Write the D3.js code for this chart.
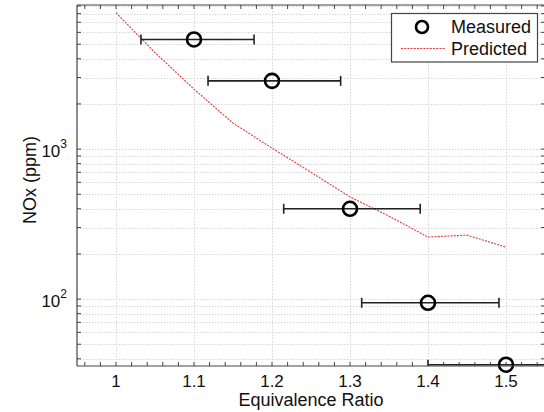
<!DOCTYPE html>
<html>
<head>
<meta charset="utf-8">
<script src="https://cdn.jsdelivr.net/npm/d3@7"></script>
<style>
  html, body { margin: 0; padding: 0; background: #fff; }
  svg { display: block; font-family: "Liberation Sans", Arial, sans-serif; }
</style>
</head>
<body>
<svg id="chart" width="544" height="412"></svg>
<script>
// ---- Data ----
const measuredPhi = [1.1, 1.2, 1.3, 1.4, 1.5];
const measuredNOx = [5380, 2850, 400, 94.5, 36.5];
const measuredPhiLow = [1.032, 1.118, 1.215, 1.315, 1.400];
const measuredPhiHigh = [1.177, 1.288, 1.390, 1.491, 1.620];

const predictedPhi = [1.0, 1.05, 1.1, 1.15, 1.2, 1.25, 1.3, 1.35, 1.4, 1.45, 1.5];
const predictedNOx = [8100, 4400, 2510, 1490, 1015, 700, 480, 357, 259, 267, 222];

const xTickValues = [1, 1.1, 1.2, 1.3, 1.4, 1.5];
const xTickLabels = ["1", "1.1", "1.2", "1.3", "1.4", "1.5"];
const yTickValues = [100, 1000];
const yTickExponents = ["2", "3"];
const legendLabels = ["Measured", "Predicted"];
const xTitle = "Equivalence Ratio";
const yTitle = "NOx (ppm)";

// ---- Layout ----
const svg = d3.select("#chart");
const pL = 77, pR = 545, pT = 5, pB = 366;
const x = d3.scaleLinear().domain([0.95, 1.55]).range([pL, pR]);
const y = d3.scaleLog().domain([35.8, 9130]).range([pB, pT]);

const axisColor = "#444";
const gridColor = "#d6d6d6";

// grid
const yMinor = [];
for (let d = 10; d <= 1000; d *= 10) for (let k = 1; k <= 9; k++) {
  const v = d * k; if (v >= 35.8 && v <= 9130) yMinor.push(v);
}
const xMinor = d3.range(0, 31).map(i => +(0.96 + i * 0.02).toFixed(2)).filter(v => v < 1.55);

const grid = svg.append("g");
grid.selectAll(".hg").data(yMinor).join("line")
  .attr("x1", pL).attr("x2", pR)
  .attr("y1", d => Math.round(y(d)) + 0.5).attr("y2", d => Math.round(y(d)) + 0.5)
  .attr("stroke", gridColor).attr("stroke-width", 1).attr("stroke-dasharray", "1.5,1.5");
grid.selectAll(".vg").data(xTickValues).join("line")
  .attr("y1", pT).attr("y2", pB)
  .attr("x1", d => Math.round(x(d)) + 0.5).attr("x2", d => Math.round(x(d)) + 0.5)
  .attr("stroke", gridColor).attr("stroke-width", 1).attr("stroke-dasharray", "1.5,1.5");

// clip
svg.append("clipPath").attr("id", "clip").append("rect")
  .attr("x", pL).attr("y", pT).attr("width", pR - pL).attr("height", pB - pT);

const plot = svg.append("g").attr("clip-path", "url(#clip)");

// predicted line
const line = d3.line().x(d => x(d[0])).y(d => y(d[1]));
plot.append("path")
  .datum(predictedPhi.map((p, i) => [p, predictedNOx[i]]))
  .attr("d", line)
  .attr("fill", "none").attr("stroke", "#e0393b").attr("stroke-width", 1.1)
  .attr("stroke-dasharray", "2,1.2");

// error bars
const meas = measuredPhi.map((p, i) => ({ p, v: measuredNOx[i], lo: measuredPhiLow[i], hi: measuredPhiHigh[i] }));
const eb = plot.append("g").attr("stroke", "#222").attr("stroke-width", 1.6);
eb.selectAll(".bar").data(meas).join("line")
  .attr("x1", d => x(d.lo)).attr("x2", d => x(d.hi))
  .attr("y1", d => y(d.v)).attr("y2", d => y(d.v));
eb.selectAll(".capl").data(meas).join("line")
  .attr("x1", d => x(d.lo)).attr("x2", d => x(d.lo))
  .attr("y1", d => y(d.v) - 5).attr("y2", d => y(d.v) + 5);
eb.selectAll(".caph").data(meas).join("line")
  .attr("x1", d => x(d.hi)).attr("x2", d => x(d.hi))
  .attr("y1", d => y(d.v) - 5).attr("y2", d => y(d.v) + 5);

// markers
svg.append("g").selectAll("circle").data(meas).join("circle")
  .attr("cx", d => x(d.p)).attr("cy", d => y(d.v)).attr("r", 7)
  .attr("fill", "none").attr("stroke", "#000").attr("stroke-width", 2.6);

// axes frame
const ax = svg.append("g").attr("stroke", axisColor).attr("stroke-width", 1.2);
ax.append("line").attr("x1", pL).attr("x2", pL).attr("y1", pT).attr("y2", pB);
ax.append("line").attr("x1", pL).attr("x2", pR).attr("y1", pB).attr("y2", pB);
ax.append("line").attr("x1", pL).attr("x2", pR).attr("y1", pT).attr("y2", pT);
ax.append("line").attr("x1", pR).attr("x2", pR).attr("y1", pT).attr("y2", pB);

// x ticks (bottom & top)
const xt = svg.append("g").attr("stroke", axisColor).attr("stroke-width", 1);
xt.selectAll(".xb").data(xMinor).join("line")
  .attr("x1", d => x(d)).attr("x2", d => x(d))
  .attr("y1", pB).attr("y2", pB - 4);
xt.selectAll(".xtp").data(xMinor).join("line")
  .attr("x1", d => x(d)).attr("x2", d => x(d))
  .attr("y1", pT).attr("y2", pT + 4);
// y ticks (left & right)
xt.selectAll(".yl").data(yMinor).join("line")
  .attr("x1", pL).attr("x2", pL + 4)
  .attr("y1", d => y(d)).attr("y2", d => y(d));
xt.selectAll(".yr").data(yMinor).join("line")
  .attr("x1", pR).attr("x2", pR - 4)
  .attr("y1", d => y(d)).attr("y2", d => y(d));

// x tick labels
svg.append("g").selectAll("text").data(xTickValues).join("text")
  .attr("x", d => x(d)).attr("y", 387)
  .attr("text-anchor", "middle").attr("font-size", 17).attr("fill", "#111")
  .text((d, i) => xTickLabels[i]);

// y tick labels
const yl = svg.append("g").selectAll("text").data(yTickValues).join("text")
  .attr("x", 67).attr("y", d => y(d) + 8)
  .attr("text-anchor", "end").attr("font-size", 17).attr("fill", "#111");
yl.append("tspan").text("10");
yl.append("tspan").attr("dy", -9).attr("font-size", 12).text((d, i) => yTickExponents[i]);

// axis titles
svg.append("text").attr("x", 311).attr("y", 406)
  .attr("text-anchor", "middle").attr("font-size", 18).attr("fill", "#111").text(xTitle);
svg.append("text").attr("transform", "translate(36,180) rotate(-90)")
  .attr("text-anchor", "middle").attr("font-size", 18).attr("fill", "#111").text(yTitle);

// legend
const lg = svg.append("g");
lg.append("rect").attr("x", 391.5).attr("y", 13.5).attr("width", 146).attr("height", 48.5)
  .attr("fill", "#fff").attr("stroke", "#444").attr("stroke-width", 1.2);
lg.append("circle").attr("cx", 422).attr("cy", 27).attr("r", 6)
  .attr("fill", "none").attr("stroke", "#000").attr("stroke-width", 2.6);
lg.append("line").attr("x1", 401).attr("x2", 446).attr("y1", 48.5).attr("y2", 48.5)
  .attr("stroke", "#e0393b").attr("stroke-width", 1.1).attr("stroke-dasharray", "2,1.2");
lg.append("text").attr("x", 451).attr("y", 33).attr("font-size", 18).attr("fill", "#111").text(legendLabels[0]);
lg.append("text").attr("x", 451).attr("y", 55).attr("font-size", 18).attr("fill", "#111").text(legendLabels[1]);
</script>
</body>
</html>
